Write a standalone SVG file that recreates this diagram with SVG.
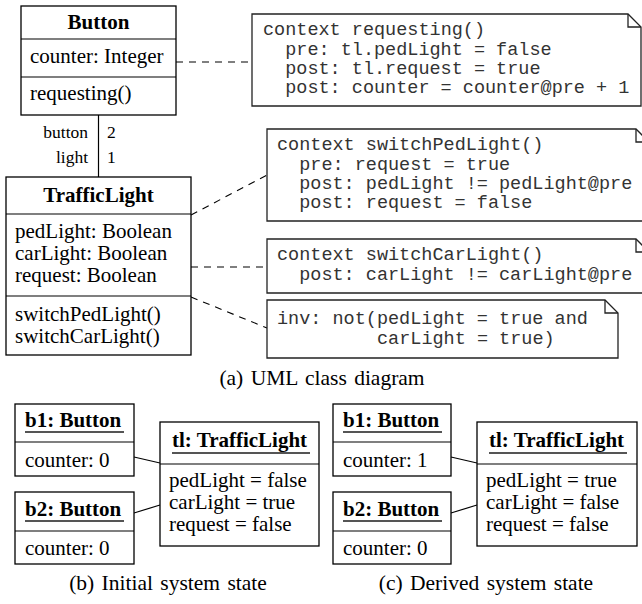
<svg xmlns="http://www.w3.org/2000/svg" width="642" height="604" viewBox="0 0 642 604">
<style>
.box{fill:#fff;stroke:#000;stroke-width:1.3}
.note{fill:#fff;stroke:#222;stroke-width:1.3}
.fold{fill:none;stroke:#222;stroke-width:1.3}
.div{stroke:#000;stroke-width:1.2}
.t{font-family:"Liberation Serif","Times New Roman",serif;font-size:21px;fill:#000}
.b{font-family:"Liberation Serif","Times New Roman",serif;font-size:21px;font-weight:bold;fill:#000}
.s{font-family:"Liberation Serif","Times New Roman",serif;font-size:17.5px;fill:#000}
.m{font-family:"Liberation Mono","Courier New",monospace;font-size:18.5px;fill:#333}
.cap{font-family:"Liberation Serif","Times New Roman",serif;font-size:21.5px;word-spacing:2px;fill:#000;text-anchor:middle}
.dash{stroke:#000;stroke-width:1.1;stroke-dasharray:7,6;fill:none}
.link{stroke:#000;stroke-width:1.2;fill:none}
.ul{stroke:#555;stroke-width:1.8}
</style>

<g id="connectors">
  <line class="link" x1="98.5" y1="115" x2="98.5" y2="177"/>
  <line class="dash" x1="176" y1="62" x2="252" y2="62"/>
  <line class="dash" x1="191" y1="215" x2="267" y2="175"/>
  <line class="dash" x1="191" y1="267" x2="267" y2="267"/>
  <line class="dash" x1="191" y1="297" x2="267" y2="328"/>
  <line class="link" x1="134" y1="457" x2="160" y2="463"/>
  <line class="link" x1="134" y1="513" x2="160" y2="505"/>
  <line class="link" x1="451" y1="457" x2="477" y2="463"/>
  <line class="link" x1="451" y1="513" x2="477" y2="505"/>
</g>

<g id="assoc-labels">
  <text class="s" x="88" y="138" text-anchor="end">button</text>
  <text class="s" x="107" y="138">2</text>
  <text class="s" x="88" y="163" text-anchor="end">light</text>
  <text class="s" x="107" y="163">1</text>
</g>

<g id="Button">
  <rect class="box" x="21" y="6" width="155" height="109"/>
  <line class="div" x1="21" y1="39" x2="176" y2="39"/>
  <line class="div" x1="21" y1="77" x2="176" y2="77"/>
  <text class="b" x="98.5" y="29" text-anchor="middle">Button</text>
  <text class="t" x="30" y="63">counter: Integer</text>
  <text class="t" x="30" y="100">requesting()</text>
</g>

<g id="TrafficLight">
  <rect class="box" x="6" y="177" width="185" height="178"/>
  <line class="div" x1="6" y1="214" x2="191" y2="214"/>
  <line class="div" x1="6" y1="296" x2="191" y2="296"/>
  <text class="b" x="98.5" y="202" text-anchor="middle">TrafficLight</text>
  <text class="t" x="15" y="238">pedLight: Boolean</text>
  <text class="t" x="15" y="260">carLight: Boolean</text>
  <text class="t" x="15" y="282">request: Boolean</text>
  <text class="t" x="15" y="321">switchPedLight()</text>
  <text class="t" x="15" y="343">switchCarLight()</text>
</g>

<g id="note-requesting">
  <path class="note" d="M252,14 H628 L641,27 V106 H252 Z"/>
  <path class="fold" d="M628,14 V27 H641"/>
  <text class="m" x="263" y="35">context requesting()</text>
  <text class="m" x="285.2" y="54.5">pre: tl.pedLight = false</text>
  <text class="m" x="285.2" y="74">post: tl.request = true</text>
  <text class="m" x="285.2" y="93">post: counter = counter@pre + 1</text>
</g>

<g id="note-switchPedLight">
  <path class="note" d="M267,129 H636 L649,142 V221 H267 Z"/>
  <path class="fold" d="M636,129 V142 H649"/>
  <text class="m" x="277" y="150">context switchPedLight()</text>
  <text class="m" x="299.2" y="169.5">pre: request = true</text>
  <text class="m" x="299.2" y="189">post: pedLight != pedLight@pre</text>
  <text class="m" x="299.2" y="208">post: request = false</text>
</g>

<g id="note-switchCarLight">
  <path class="note" d="M267,239 H636 L649,252 V293 H267 Z"/>
  <path class="fold" d="M636,239 V252 H649"/>
  <text class="m" x="277" y="260">context switchCarLight()</text>
  <text class="m" x="299.2" y="279.5">post: carLight != carLight@pre</text>
</g>

<g id="note-inv">
  <path class="note" d="M267,300 H605 L618,313 V358 H267 Z"/>
  <path class="fold" d="M605,300 V313 H618"/>
  <text class="m" x="277" y="324">inv: not(pedLight = true and</text>
  <text class="m" x="377" y="344">carLight = true)</text>
</g>

<text class="cap" x="322" y="385">(a) UML class diagram</text>

<g id="b-b1">
  <rect class="box" x="15" y="404" width="119" height="72"/>
  <line class="div" x1="15" y1="442" x2="134" y2="442"/>
  <text class="b" x="25" y="427">b1: Button</text>
  <line class="ul" x1="25" y1="432" x2="124" y2="432"/>
  <text class="t" x="25" y="467">counter: 0</text>
</g>
<g id="b-b2">
  <rect class="box" x="15" y="492" width="119" height="72"/>
  <line class="div" x1="15" y1="531" x2="134" y2="531"/>
  <text class="b" x="25" y="516">b2: Button</text>
  <line class="ul" x1="25" y1="521" x2="124" y2="521"/>
  <text class="t" x="25" y="555">counter: 0</text>
</g>
<g id="b-tl">
  <rect class="box" x="160" y="422" width="159" height="124"/>
  <line class="div" x1="160" y1="464" x2="319" y2="464"/>
  <text class="b" x="172" y="447">tl: TrafficLight</text>
  <line class="ul" x1="172" y1="453" x2="310" y2="453"/>
  <text class="t" x="169" y="487">pedLight = false</text>
  <text class="t" x="169" y="509">carLight = true</text>
  <text class="t" x="169" y="531">request = false</text>
</g>
<text class="cap" x="168" y="590">(b) Initial system state</text>

<g id="c-b1">
  <rect class="box" x="333" y="404" width="118" height="72"/>
  <line class="div" x1="333" y1="442" x2="451" y2="442"/>
  <text class="b" x="343" y="427">b1: Button</text>
  <line class="ul" x1="343" y1="432" x2="442" y2="432"/>
  <text class="t" x="343" y="467">counter: 1</text>
</g>
<g id="c-b2">
  <rect class="box" x="333" y="492" width="118" height="72"/>
  <line class="div" x1="333" y1="531" x2="451" y2="531"/>
  <text class="b" x="343" y="516">b2: Button</text>
  <line class="ul" x1="343" y1="521" x2="442" y2="521"/>
  <text class="t" x="343" y="555">counter: 0</text>
</g>
<g id="c-tl">
  <rect class="box" x="477" y="422" width="160" height="124"/>
  <line class="div" x1="477" y1="464" x2="637" y2="464"/>
  <text class="b" x="489" y="447">tl: TrafficLight</text>
  <line class="ul" x1="489" y1="453" x2="627" y2="453"/>
  <text class="t" x="486" y="487">pedLight = true</text>
  <text class="t" x="486" y="509">carLight = false</text>
  <text class="t" x="486" y="531">request = false</text>
</g>
<text class="cap" x="486" y="590">(c) Derived system state</text>
</svg>
